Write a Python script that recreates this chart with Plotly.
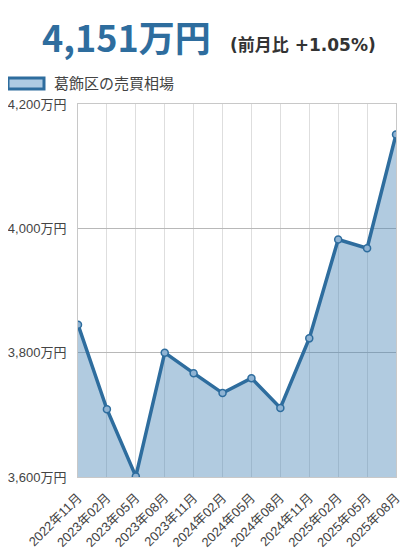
import plotly.graph_objects as go

categories = ["2022年11月", "2023年02月", "2023年05月", "2023年08月", "2023年11月",
              "2024年02月", "2024年05月", "2024年08月", "2024年11月", "2025年02月",
              "2025年05月", "2025年08月"]
values = [3845, 3709, 3601, 3800, 3767, 3735, 3759, 3711, 3823, 3982, 3968, 4151]
tick_vals = [3600, 3800, 4000, 4200]
tick_text = ["3,600万円", "3,800万円", "4,000万円", "4,200万円"]
series_name = "葛飾区の売買相場"
headline = "4,151万円"
change_text = "(前月比 +1.05%)"

LINE = "#2e6d9e"
FILL = "rgba(70,130,180,0.42)"
FONT = "Noto Sans CJK JP"
TICKFONT = "Liberation Sans, Noto Sans CJK JP"

PW, PH = 318, 373  # plot area size in px (for paper-relative placement)

fig = go.Figure()
fig.add_trace(go.Scatter(
    x=categories, y=values, mode="lines+markers", fill="tozeroy",
    fillcolor=FILL, line=dict(color=LINE, width=3.5),
    marker=dict(size=7, color="#8fb3d3", line=dict(color=LINE, width=1.5)),
    showlegend=False, hoverinfo="skip",
))

fig.update_layout(
    width=400, height=550,
    margin=dict(l=70, r=12, t=96, b=81),
    paper_bgcolor="white", plot_bgcolor="white",
    font=dict(family=FONT, color="#444", size=12),
    xaxis=dict(
        type="category", range=[0, len(categories) - 1], automargin=False,
        showgrid=True, gridcolor="#dedede", gridwidth=1,
        tickangle=-45, tickfont=dict(family=TICKFONT, size=13, color="#444"),
        ticklabelstandoff=7,
        showline=True, linecolor="#c8c8c8", mirror=True,
        ticks="", zeroline=False,
    ),
    yaxis=dict(
        range=[3600, 4200], tickvals=tick_vals, ticktext=tick_text, automargin=False,
        showgrid=True, gridcolor="#b8b8b8", gridwidth=1,
        tickfont=dict(family=TICKFONT, size=13, color="#444"),
        ticklabelstandoff=8,
        showline=True, linecolor="#c8c8c8", mirror=True,
        ticks="", zeroline=False,
    ),
    shapes=[dict(type="rect", xref="paper", yref="paper",
                 x0=-70/PW, x1=-34/PW, y0=1 + 15/PH, y1=1 + 26/PH,
                 fillcolor="#aecbe3", line=dict(color=LINE, width=3))],
    annotations=[
        dict(text="<b>" + headline + "</b>", xref="paper", yref="paper",
             x=-38/PW, y=1 + 68/PH, xanchor="left", yanchor="middle",
             showarrow=False, font=dict(family=FONT, size=36, color=LINE)),
        dict(text="<b>" + change_text + "</b>", xref="paper", yref="paper",
             x=150/PW, y=1 + 59/PH, xanchor="left", yanchor="middle",
             showarrow=False, font=dict(family="DejaVu Sans, Noto Sans CJK JP", size=17, color="#333")),
        dict(text=series_name, xref="paper", yref="paper",
             x=-26/PW, y=1 + 21/PH, xanchor="left", yanchor="middle",
             showarrow=False, font=dict(family=FONT, size=15, color="#444")),
    ],
)

fig.write_html("out.html")
